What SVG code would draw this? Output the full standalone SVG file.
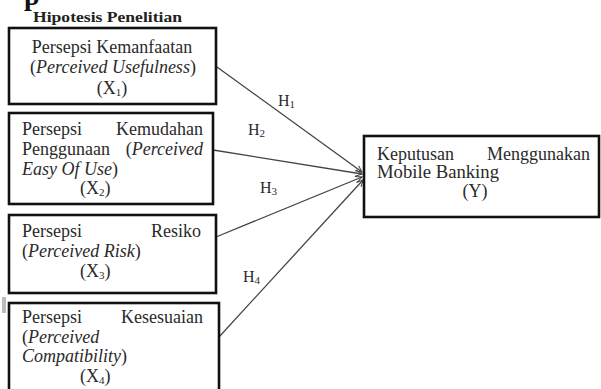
<svg xmlns="http://www.w3.org/2000/svg" width="601" height="389" viewBox="0 0 601 389">
<defs>
<style>
.box{fill:#fff;stroke:#111;stroke-width:2.6}
.t{font-family:"Liberation Serif","Times New Roman",serif;font-size:18px;fill:#2a2a2a}
.i{font-style:italic}
.e{text-anchor:end}
.h{font-family:"Liberation Serif","Times New Roman",serif;font-size:16px;fill:#2a2a2a}
.sub{font-size:11px}
.con{stroke:#444;stroke-width:1.3;fill:none;marker-end:url(#arr)}
</style>
<marker id="arr" viewBox="0 0 10 10" refX="9" refY="5" markerWidth="8" markerHeight="8" markerUnits="userSpaceOnUse" orient="auto">
<path d="M1,1 L9,5 L1,9" fill="none" stroke="#444" stroke-width="1.3"/>
</marker>
</defs>
<rect width="601" height="389" fill="#fff"/>
<text x="24" y="5" font-family="Liberation Serif, serif" font-weight="bold" font-size="28" fill="#111">p</text>
<text x="33" y="22" font-family="Liberation Serif, serif" font-weight="bold" font-size="14" fill="#222" textLength="149" lengthAdjust="spacingAndGlyphs">Hipotesis Penelitian</text>
<rect x="2" y="297" width="4" height="16" fill="#bbb"/>

<g id="connectors">
<line class="con" x1="217" y1="67" x2="362" y2="172"/>
<line class="con" x1="213" y1="150" x2="362" y2="174"/>
<line class="con" x1="216" y1="237" x2="362" y2="177"/>
<line class="con" x1="219" y1="337" x2="363" y2="180"/>
<text class="h" x="278" y="106">H<tspan class="sub" dy="2">1</tspan></text>
<text class="h" x="248" y="135">H<tspan class="sub" dy="2">2</tspan></text>
<text class="h" x="260" y="193">H<tspan class="sub" dy="2">3</tspan></text>
<text class="h" x="243" y="282">H<tspan class="sub" dy="2">4</tspan></text>
</g>

<g id="x1">
<rect class="box" x="9" y="28" width="207" height="76"/>
<text class="t" x="112" y="53" text-anchor="middle">Persepsi Kemanfaatan</text>
<text class="t" x="113" y="73" text-anchor="middle">(<tspan class="i">Perceived Usefulness</tspan>)</text>
<text class="t" x="112" y="94" text-anchor="middle">(X<tspan class="sub" dy="2">1</tspan><tspan dy="-2">)</tspan></text>
</g>

<g id="x2">
<rect class="box" x="9" y="113" width="204" height="91"/>
<text class="t" x="22" y="135">Persepsi</text>
<text class="t e" x="203" y="135">Kemudahan</text>
<text class="t" x="22" y="155">Penggunaan</text>
<text class="t e" x="203" y="155">(<tspan class="i">Perceived</tspan></text>
<text class="t" x="22" y="175"><tspan class="i">Easy Of Use</tspan>)</text>
<text class="t" x="80" y="194">(X<tspan class="sub" dy="2">2</tspan><tspan dy="-2">)</tspan></text>
</g>

<g id="x3">
<rect class="box" x="9" y="215" width="207" height="78"/>
<text class="t" x="22" y="237">Persepsi</text>
<text class="t e" x="201" y="237">Resiko</text>
<text class="t" x="22" y="257">(<tspan class="i">Perceived Risk</tspan>)</text>
<text class="t" x="80" y="277">(X<tspan class="sub" dy="2">3</tspan><tspan dy="-2">)</tspan></text>
</g>

<g id="x4">
<rect class="box" x="9" y="303" width="210" height="100"/>
<text class="t" x="22" y="323">Persepsi</text>
<text class="t e" x="203" y="323">Kesesuaian</text>
<text class="t" x="22" y="343">(<tspan class="i">Perceived</tspan></text>
<text class="t" x="22" y="362"><tspan class="i">Compatibility</tspan>)</text>
<text class="t" x="80" y="382">(X<tspan class="sub" dy="2">4</tspan><tspan dy="-2">)</tspan></text>
</g>

<g id="y">
<rect class="box" x="364" y="136" width="235" height="81"/>
<text class="t" x="377" y="160">Keputusan</text>
<text class="t e" x="590" y="160">Menggunakan</text>
<text class="t" x="377" y="178" textLength="122" lengthAdjust="spacingAndGlyphs">Mobile Banking</text>
<text class="t" x="475" y="197" text-anchor="middle">(Y)</text>
</g>
</svg>
